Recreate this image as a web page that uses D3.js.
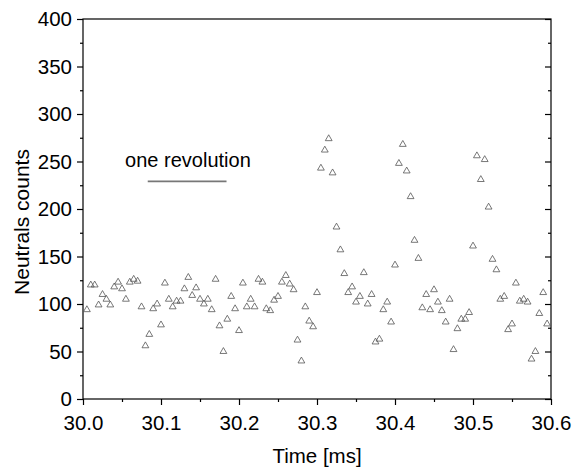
<!DOCTYPE html>
<html>
<head>
<meta charset="utf-8">
<script src="https://cdn.jsdelivr.net/npm/d3@7"></script>
<style>
  body { margin: 0; background: #fff; }
  text { font-family: "Liberation Sans", Arial, sans-serif; fill: #000; }
</style>
</head>
<body>
<div id="chart"></div>
<script>
// Chart size and plot margins
const CHART_WIDTH = 573;
const CHART_HEIGHT = 473;
const MARGIN = { left: 83, bottom: 74, top: 19, right: 22 };

// Sample times [ms]
const times = [
  30.005, 30.010, 30.015, 30.020, 30.025, 30.030, 30.035, 30.040, 30.045, 30.050,
  30.055, 30.060, 30.065, 30.070, 30.075, 30.080, 30.085, 30.090, 30.095, 30.100,
  30.105, 30.110, 30.115, 30.120, 30.125, 30.130, 30.135, 30.140, 30.145, 30.150,
  30.155, 30.160, 30.165, 30.170, 30.175, 30.180, 30.185, 30.190, 30.195, 30.200,
  30.205, 30.210, 30.215, 30.220, 30.225, 30.230, 30.235, 30.240, 30.245, 30.250,
  30.255, 30.260, 30.265, 30.270, 30.275, 30.280, 30.285, 30.290, 30.295, 30.300,
  30.305, 30.310, 30.315, 30.320, 30.325, 30.330, 30.335, 30.340, 30.345, 30.350,
  30.355, 30.360, 30.365, 30.370, 30.375, 30.380, 30.385, 30.390, 30.395, 30.400,
  30.405, 30.410, 30.415, 30.420, 30.425, 30.430, 30.435, 30.440, 30.445, 30.450,
  30.455, 30.460, 30.465, 30.470, 30.475, 30.480, 30.485, 30.490, 30.495, 30.500,
  30.505, 30.510, 30.515, 30.520, 30.525, 30.530, 30.535, 30.540, 30.545, 30.550,
  30.555, 30.560, 30.565, 30.570, 30.575, 30.580, 30.585, 30.590, 30.595
];

// Neutral counts
const counts = [
  94, 120, 120, 99, 110, 105, 99, 118, 123, 116,
  105, 123, 126, 124, 97, 56, 68, 95, 100, 78,
  122, 105, 97, 103, 103, 116, 128, 109, 117, 105,
  100, 105, 94, 126, 77, 50, 84, 108, 95, 72,
  122, 97, 105, 97, 126, 123, 95, 93, 104, 108,
  123, 130, 121, 115, 62, 40, 97, 82, 76, 112,
  243, 262, 274, 238, 181, 157, 132, 112, 118, 102,
  108, 133, 100, 110, 60, 63, 94, 102, 81, 141,
  248, 268, 240, 213, 167, 148, 96, 110, 94, 115,
  102, 93, 81, 105, 52, 74, 84, 84, 91, 161,
  256, 231, 252, 202, 147, 136, 105, 108, 73, 79,
  122, 103, 105, 102, 42, 50, 90, 112, 79
];

// Axis ticks
const xTicks = [30.0, 30.1, 30.2, 30.3, 30.4, 30.5, 30.6];
const xMinorTicks = [30.05, 30.15, 30.25, 30.35, 30.45, 30.55];
const yTicks = [0, 50, 100, 150, 200, 250, 300, 350, 400];
const yMinorTicks = [25, 75, 125, 175, 225, 275, 325, 375];

// "one revolution" marker
const revLabel = "one revolution";
const revStart = 30.083;
const revEnd = 30.184;
const revLevel = 229;
const revLabelPos = [30.054, 244];

let svg = d3.select("#chart").append("svg")
  .attr("width", CHART_WIDTH).attr("height", CHART_HEIGHT);

let xScale = d3.scaleLinear()
  .domain([30.0, 30.6])
  .range([MARGIN.left, CHART_WIDTH - MARGIN.right]);

let yScale = d3.scaleLinear()
  .domain([0, 400])
  .range([CHART_HEIGHT - MARGIN.bottom, MARGIN.top]);

let plotW = CHART_WIDTH - MARGIN.right - MARGIN.left;
let plotH = CHART_HEIGHT - MARGIN.bottom - MARGIN.top;

// Frame
svg.append("rect")
  .attr("x", MARGIN.left).attr("y", MARGIN.top)
  .attr("width", plotW).attr("height", plotH)
  .attr("fill", "none").attr("stroke", "#000").attr("stroke-width", 1.2);

// Bottom axis
let xAxis = d3.axisBottom(xScale).tickValues(xTicks).tickFormat(d3.format(".1f")).tickSize(6).tickSizeOuter(0);
let gx = svg.append("g")
  .attr("transform", `translate(0, ${CHART_HEIGHT - MARGIN.bottom})`)
  .call(xAxis);
gx.select(".domain").remove();
gx.selectAll("text").attr("dy", null).attr("y", 31).style("font-size", "20.5px");
svg.append("g")
  .attr("transform", `translate(0, ${CHART_HEIGHT - MARGIN.bottom})`)
  .call(d3.axisBottom(xScale).tickValues(xMinorTicks).tickFormat("").tickSize(3).tickSizeOuter(0))
  .select(".domain").remove();

// Left axis
let yAxis = d3.axisLeft(yScale).tickValues(yTicks).tickSize(6).tickSizeOuter(0);
let gy = svg.append("g")
  .attr("transform", `translate(${MARGIN.left}, 0)`)
  .call(yAxis);
gy.select(".domain").remove();
gy.selectAll("text").attr("x", -11).style("font-size", "20.5px");
svg.append("g")
  .attr("transform", `translate(${MARGIN.left}, 0)`)
  .call(d3.axisLeft(yScale).tickValues(yMinorTicks).tickFormat("").tickSize(3).tickSizeOuter(0))
  .select(".domain").remove();

// Right axis, ticks pointing inward
svg.append("g")
  .attr("transform", `translate(${CHART_WIDTH - MARGIN.right}, 0)`)
  .call(d3.axisLeft(yScale).tickValues(yTicks).tickFormat("").tickSize(6).tickSizeOuter(0))
  .select(".domain").remove();
svg.append("g")
  .attr("transform", `translate(${CHART_WIDTH - MARGIN.right}, 0)`)
  .call(d3.axisLeft(yScale).tickValues(yMinorTicks).tickFormat("").tickSize(3).tickSizeOuter(0))
  .select(".domain").remove();

svg.selectAll(".tick line").attr("stroke", "#000").attr("stroke-width", 1.2);

// Data points: open triangles
let data = times.map((t, i) => ({ t: t, v: counts[i] }));
let tri = d3.symbol().type(d3.symbolTriangle).size(20);
svg.append("g").selectAll("path")
  .data(data)
  .join("path")
  .attr("transform", d => `translate(${xScale(d.t)}, ${yScale(d.v)})`)
  .attr("d", tri)
  .attr("fill", "none")
  .attr("stroke", "#555")
  .attr("stroke-width", 0.8);

// Revolution marker
svg.append("line")
  .attr("x1", xScale(revStart)).attr("x2", xScale(revEnd))
  .attr("y1", yScale(revLevel)).attr("y2", yScale(revLevel))
  .attr("stroke", "#777").attr("stroke-width", 1.8);
svg.append("text")
  .attr("x", xScale(revLabelPos[0])).attr("y", yScale(revLabelPos[1]))
  .style("font-size", "20px")
  .text(revLabel);

// Axis titles
svg.append("text")
  .attr("x", (MARGIN.left + CHART_WIDTH - MARGIN.right) / 2)
  .attr("y", CHART_HEIGHT - 10)
  .style("text-anchor", "middle")
  .style("font-size", "20.5px")
  .text("Time [ms]");

svg.append("text")
  .attr("transform", "rotate(-90)")
  .attr("x", -222)
  .attr("y", 29)
  .style("text-anchor", "middle")
  .style("font-size", "21px")
  .text("Neutrals counts");
</script>
</body>
</html>
